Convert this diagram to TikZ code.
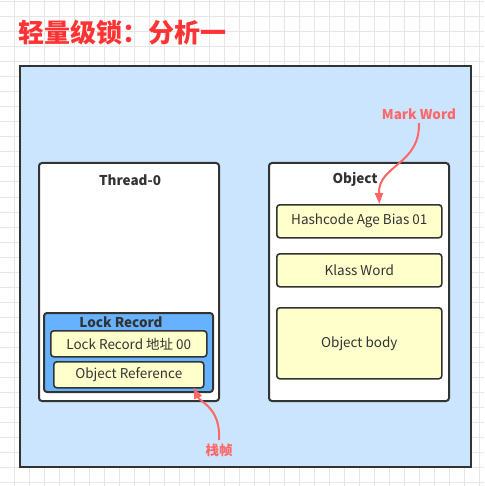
\documentclass[tikz,border=0pt]{standalone}
\usepackage{fontspec}
\setmainfont{Noto Sans CJK SC}
\usetikzlibrary{arrows.meta}

\definecolor{bgblue}{HTML}{CCE5FF}
\definecolor{lrblue}{HTML}{66B2FF}
\definecolor{fieldyellow}{HTML}{FFFFCC}
\definecolor{edgegray}{HTML}{333333}
\definecolor{gridgray}{HTML}{E6E6E6}
\definecolor{titlered}{HTML}{FF3333}
\definecolor{notered}{HTML}{FF6666}

\tikzset{
    panel/.style={draw=edgegray, line width=2pt, rounded corners=3pt, fill=white, anchor=north west},
    field/.style={draw=edgegray, line width=1.6pt, rounded corners=3pt, fill=fieldyellow,
        text=edgegray, font=\fontsize{13.5}{15}\selectfont, anchor=north west, inner sep=0pt},
    heading/.style={text=edgegray, font=\fontsize{13.5}{15}\selectfont\bfseries},
    note/.style={text=notered, font=\fontsize{13.5}{15}\selectfont\bfseries},
    pointer/.style={draw=notered, line width=2pt, -{Triangle[length=11pt,width=8pt]}}
}

\begin{document}
\begin{tikzpicture}[x=1pt, y=-1pt]
    \useasboundingbox (0,0) rectangle (484,486);

    % grid behind
    \foreach \gx in {-1,14,...,484} \draw[gridgray, line width=1pt] (\gx,0) -- (\gx,486);
    \foreach \gy in {2,17,...,486} \draw[gridgray, line width=1pt] (0,\gy) -- (484,\gy);

    % title
    \node[anchor=west, inner sep=0pt, text=titlered, font=\fontsize{26}{30}\selectfont\bfseries]
        (title) at (18,33) {轻量级锁：分析一};

    % frame
    \draw[draw=edgegray, line width=2.4pt, fill=bgblue] (20,66) rectangle (471,467);

    % Thread-0
    \node[panel, minimum width=180pt, minimum height=238pt] (thread) at (38,162) {};
    \node[heading] (threadname) at (130,180) {Thread-0};
    \node[draw=edgegray, line width=2pt, rounded corners=3pt, fill=lrblue, anchor=north west,
        minimum width=169pt, minimum height=79pt] (lockrec) at (43,312) {};
    \node[heading] (lockrecname) at (121,322) {Lock Record};
    \node[field, minimum width=156pt, minimum height=26pt] (lraddr) at (50,330) {Lock Record 地址 00};
    \node[field, minimum width=150pt, minimum height=26pt] (objref) at (53,361) {Object Reference};

    % Object
    \node[panel, minimum width=180pt, minimum height=238pt] (object) at (268,162) {};
    \node[heading] (objectname) at (355,179) {Object};
    \node[field, minimum width=165pt, minimum height=33pt] (hash) at (276,204) {Hashcode Age Bias 01};
    \node[field, minimum width=165pt, minimum height=33pt] (klass) at (276,253) {Klass Word};
    \node[field, minimum width=165pt, minimum height=71pt] (body) at (276,307) {Object body};

    % notes
    \node[note] (markword) at (419,114) {Mark Word};
    \node[note] (frame) at (219,450) {栈帧};
    \draw[pointer] (markword.south) .. controls (420,165) and (378,165) .. ([xshift=20pt]hash.north);
    \draw[pointer] (frame.north) .. controls (221,408) and (200,402) .. ([xshift=-11pt,yshift=1pt]objref.south east);
\end{tikzpicture}
\end{document}
